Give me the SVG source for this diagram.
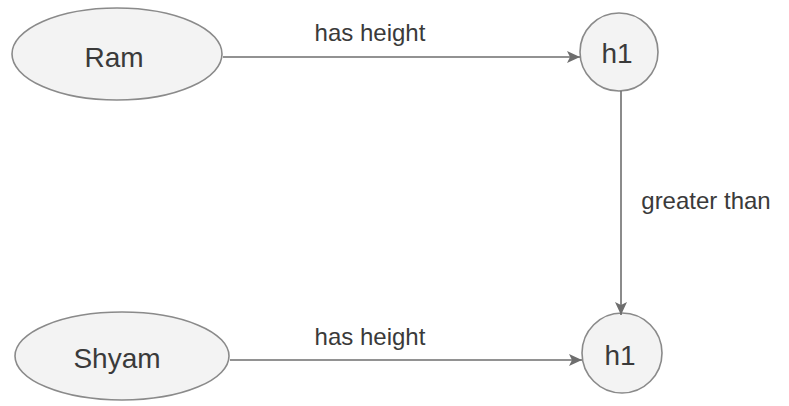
<svg xmlns="http://www.w3.org/2000/svg" width="789" height="406" viewBox="0 0 789 406">
<style>
.node{fill:#f3f3f3;stroke:#8a8a8a;stroke-width:1.6}
.nt{font-family:"Liberation Sans",Arial,sans-serif;font-size:28px;fill:#3a3a3a;text-anchor:middle;dominant-baseline:central}
.lbl{font-family:"Liberation Sans",Arial,sans-serif;font-size:24px;fill:#3a3a3a;text-anchor:middle;dominant-baseline:central}
.edge{stroke:#6e6e6e;stroke-width:1.6;fill:none;marker-end:url(#arr)}
</style>
<defs>
<marker id="arr" markerWidth="14" markerHeight="14" refX="13" refY="6" orient="auto" markerUnits="userSpaceOnUse"><path d="M0,0 L13,6 L0,12 L3,6 Z" fill="#6e6e6e"/></marker>
</defs>
<rect width="789" height="406" fill="#fff"/>
<g id="ram"><ellipse class="node" cx="117" cy="54" rx="105" ry="46"/><text class="nt" x="114" y="57">Ram</text></g>
<g id="h1-top"><circle class="node" cx="619" cy="52" r="39"/><text class="nt" x="617" y="53">h1</text></g>
<g id="shyam"><ellipse class="node" cx="122" cy="356" rx="107" ry="44"/><text class="nt" x="117" y="358">Shyam</text></g>
<g id="h1-bottom"><circle class="node" cx="622" cy="353" r="40"/><text class="nt" x="620" y="355">h1</text></g>
<g id="connectors">
<path class="edge" d="M223,57 H580"/>
<path class="edge" d="M621,91 V315"/>
<path class="edge" d="M230,360 H582"/>
<text class="lbl" x="370" y="32">has height</text>
<text class="lbl" x="706" y="200">greater than</text>
<text class="lbl" x="370" y="336">has height</text>
</g>
</svg>
